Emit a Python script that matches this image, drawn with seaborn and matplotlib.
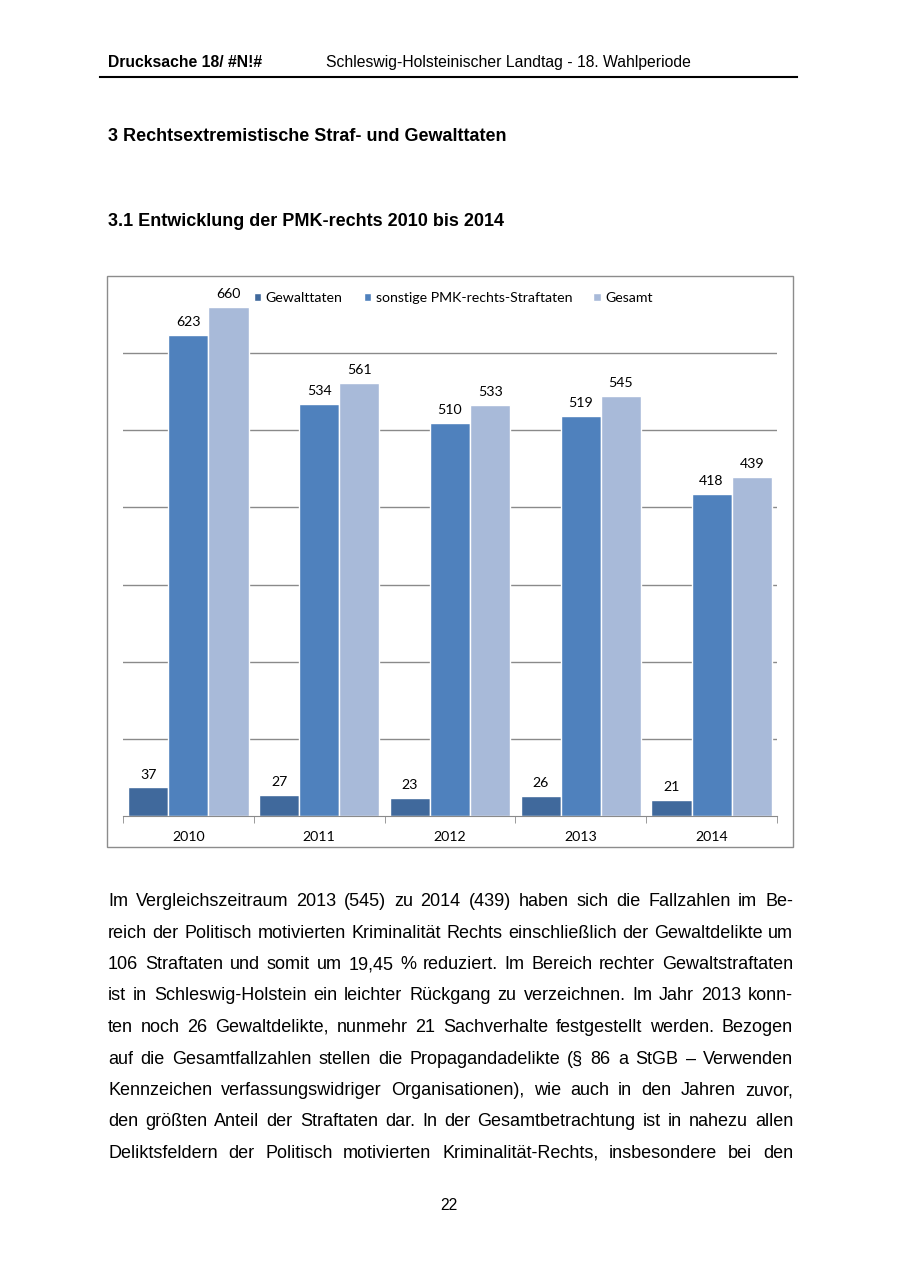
import numpy as np
import pandas as pd
import matplotlib
matplotlib.use('Agg')
import matplotlib.pyplot as plt
import seaborn as sns
from matplotlib.patches import Rectangle
from matplotlib.lines import Line2D

# chart data
years = ['2010', '2011', '2012', '2013', '2014']
gewalt = [37, 27, 23, 26, 21]
sonstige = [623, 534, 510, 519, 418]
gesamt = [660, 561, 533, 545, 439]
series = ['Gewalttaten', 'sonstige PMK-rechts-Straftaten', 'Gesamt']
colors = ['#40699C', '#4F81BD', '#A8BAD9']

# page text
header_left = 'Drucksache 18/ #N!#'
header_right = 'Schleswig-Holsteinischer Landtag - 18. Wahlperiode'
heading1 = '3 Rechtsextremistische Straf- und Gewalttaten'
heading2 = '3.1 Entwicklung der PMK-rechts 2010 bis 2014'
body_lines = [
    'Im Vergleichszeitraum 2013 (545) zu 2014 (439) haben sich die Fallzahlen im Be-',
    'reich der Politisch motivierten Kriminalität Rechts einschließlich der Gewaltdelikte um',
    '106 Straftaten und somit um 19,45 % reduziert. Im Bereich rechter Gewaltstraftaten',
    'ist in Schleswig-Holstein ein leichter Rückgang zu verzeichnen. Im Jahr 2013 konn-',
    'ten noch 26 Gewaltdelikte, nunmehr 21 Sachverhalte festgestellt werden. Bezogen',
    'auf die Gesamtfallzahlen stellen die Propagandadelikte (§ 86 a StGB – Verwenden',
    'Kennzeichen verfassungswidriger Organisationen), wie auch in den Jahren zuvor,',
    'den größten Anteil der Straftaten dar. In der Gesamtbetrachtung ist in nahezu allen',
    'Deliktsfeldern der Politisch motivierten Kriminalität-Rechts, insbesondere bei den',
]
page_no = '22'

df = pd.DataFrame({
    'Jahr': years * 3,
    'Serie': np.repeat(series, len(years)),
    'Anzahl': gewalt + sonstige + gesamt,
})

W, H = 900, 1272
fig = plt.figure(figsize=(9, 12.72), dpi=100)


def fx(px):
    return px / W


def fy(py):
    return 1 - py / H


doc_font = 'Liberation Sans'
chart_font = 'Lato'
grid_col = '#8a8a8a'
chart_size = 10.2

# chart
ax = fig.add_axes([fx(123), fy(816), fx(777) - fx(123), fy(276) - fy(816)])
sns.barplot(data=df, x='Jahr', y='Anzahl', hue='Serie', palette=colors,
            saturation=1, width=0.92, edgecolor='white', linewidth=1, ax=ax)
ax.set_ylim(0, 700)
ax.set_xlim(-0.5, 4.5)
ax.set_yticks(range(100, 700, 100))
ax.yaxis.grid(True, color=grid_col, lw=1)
ax.set_axisbelow(True)
ax.tick_params(axis='y', left=False, labelleft=False)
for s in ['left', 'right', 'top']:
    ax.spines[s].set_visible(False)
ax.spines['bottom'].set_color(grid_col)
ax.set_xticks(range(len(years)))
ax.set_xticklabels(years, fontfamily=chart_font, fontsize=chart_size)
ax.tick_params(axis='x', which='major', length=0, pad=10.5)
ax.set_xticks(np.arange(-0.5, len(years), 1), minor=True)
ax.tick_params(axis='x', which='minor', length=5, color=grid_col, direction='out')
ax.set_xlabel('')
ax.set_ylabel('')

for c in ax.containers:
    ax.bar_label(c, padding=5, fontsize=chart_size, fontfamily=chart_font)

handles, labels = ax.get_legend_handles_labels()
ax.legend(handles, labels, loc='center', bbox_to_anchor=(0.505, 0.959), ncol=3,
          frameon=False, prop={'family': chart_font, 'size': chart_size},
          handlelength=0.55, handleheight=0.55, handletextpad=0.3,
          columnspacing=1.5, borderaxespad=0)

fig.add_artist(Rectangle((fx(107), fy(847)), fx(793) - fx(107), fy(276) - fy(847),
                         transform=fig.transFigure, fill=False,
                         edgecolor='#8c8c8c', lw=1))

# page header
fig.text(fx(108), fy(67), header_left, fontsize=11.3, fontweight='bold',
         family=doc_font, va='baseline')
fig.text(fx(326), fy(67), header_right, fontsize=11.3, family=doc_font, va='baseline')
fig.add_artist(Line2D([fx(100), fx(797)], [fy(77), fy(77)], color='black', lw=1.5,
                      transform=fig.transFigure))

fig.text(fx(108), fy(141), heading1, fontsize=13, fontweight='bold',
         family=doc_font, va='baseline')
fig.text(fx(108), fy(226), heading2, fontsize=13, fontweight='bold',
         family=doc_font, va='baseline')

# justified body text
renderer = fig.canvas.get_renderer()
left, right = 108, 793
for i, line in enumerate(body_lines):
    words = line.split(' ')
    ts = [fig.text(0, 0, w, fontsize=13, family=doc_font, va='baseline') for w in words]
    widths = [t.get_window_extent(renderer).width for t in ts]
    gap = (right - left - sum(widths)) / (len(words) - 1)
    x = left
    yb = 906 + i * 31.5
    for t, w in zip(ts, widths):
        t.set_position((fx(x), fy(yb)))
        x += w + gap

fig.text(fx(449), fy(1210), page_no, fontsize=11.3, family=doc_font,
         ha='center', va='baseline')

fig.savefig('out.png', dpi=100)
